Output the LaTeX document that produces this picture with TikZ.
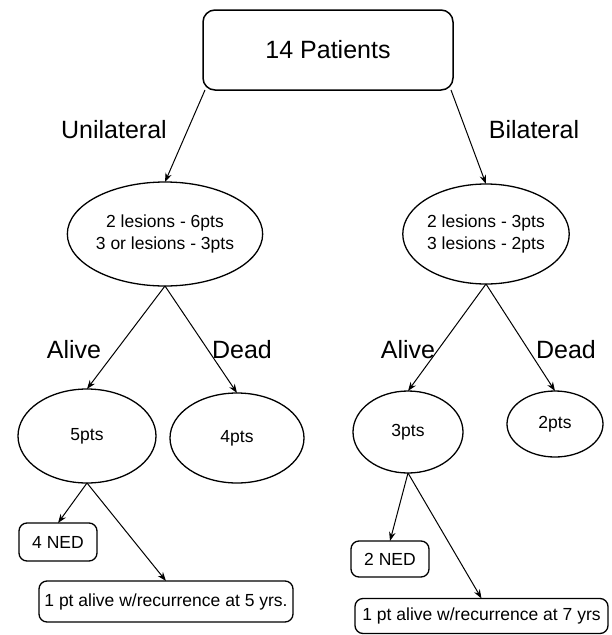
\documentclass[tikz,border=0pt]{standalone}
\usepackage{fontspec}
\setmainfont{Liberation Sans}
\usetikzlibrary{shapes.geometric,arrows.meta}
\tikzset{
  every node/.style={inner sep=0pt, outer sep=0pt},
  rbox/.style={draw, line width=1.3pt, rounded corners=8pt, align=center, font=\fontsize{17.5}{20}\selectfont},
  oval/.style={draw, ellipse, line width=1.3pt, align=center, font=\fontsize{17.5}{22}\selectfont},
  lbl/.style={font=\fontsize{25}{30}\selectfont},
  arr/.style={line width=1pt, -{Stealth[length=9pt,width=6.5pt]}}
}
\begin{document}
\begin{tikzpicture}[x=1pt,y=-1pt]
\useasboundingbox (0,0) rectangle (612,635);
% top
\node[draw, line width=1.5pt, rounded corners=12pt, minimum width=250pt, minimum height=80pt, font=\fontsize{25}{30}\selectfont] (top) at (328,50) {14 Patients};
\node[lbl] (uni) at (114,130) {Unilateral};
\node[lbl] (bil) at (534,130) {Bilateral};
% mid ellipses
\node[oval, minimum width=172pt, minimum height=104pt] (lm) at (165,234) {2 lesions - 6pts\\3 or lesions - 3pts};
\node[oval, minimum width=162pt, minimum height=100pt] (rm) at (486,234) {2 lesions - 3pts\\3 lesions - 2pts};
% labels
\node[lbl] (al1) at (74,350) {Alive};
\node[lbl] (de1) at (242,350) {Dead};
\node[lbl] (al2) at (408,350) {Alive};
\node[lbl] (de2) at (566,350) {Dead};
% lower ellipses
\node[oval, minimum width=138pt, minimum height=94pt] (a5) at (87,436) {5pts};
\node[oval, minimum width=134pt, minimum height=90pt] (d4) at (237,438) {4pts};
\node[oval, minimum width=110pt, minimum height=82pt] (a3) at (408,432) {3pts};
\node[oval, minimum width=96pt, minimum height=66pt] (d2) at (555,424) {2pts};
% boxes
\node[rbox, minimum width=78pt, minimum height=38pt] (n4) at (58,542) {4 NED};
\node[rbox, minimum width=254pt, minimum height=41pt] (b5) at (166,601.5) {1 pt alive w/recurrence at 5 yrs.};
\node[rbox, minimum width=78pt, minimum height=36pt] (n2) at (390,559) {2 NED};
\node[rbox, minimum width=253pt, minimum height=35pt] (b7) at (481.5,616) {1 pt alive w/recurrence at 7 yrs};
% arrows
\draw[arr] ([xshift=2pt]top.south west) -- (lm.north);
\draw[arr] ([xshift=-2pt]top.south east) -- (rm.north);
\draw[arr] (lm.south) -- (a5.north);
\draw[arr] (lm.south) -- (d4.north);
\draw[arr] (rm.south) -- (a3.north);
\draw[arr] (rm.south) -- (d2.north);
\draw[arr] (a5.south) -- (n4.north);
\draw[arr] (a5.south) -- (b5.north);
\draw[arr] (a3.south) -- (n2.north);
\draw[arr] (a3.south) -- (b7.north);
\end{tikzpicture}
\end{document}
